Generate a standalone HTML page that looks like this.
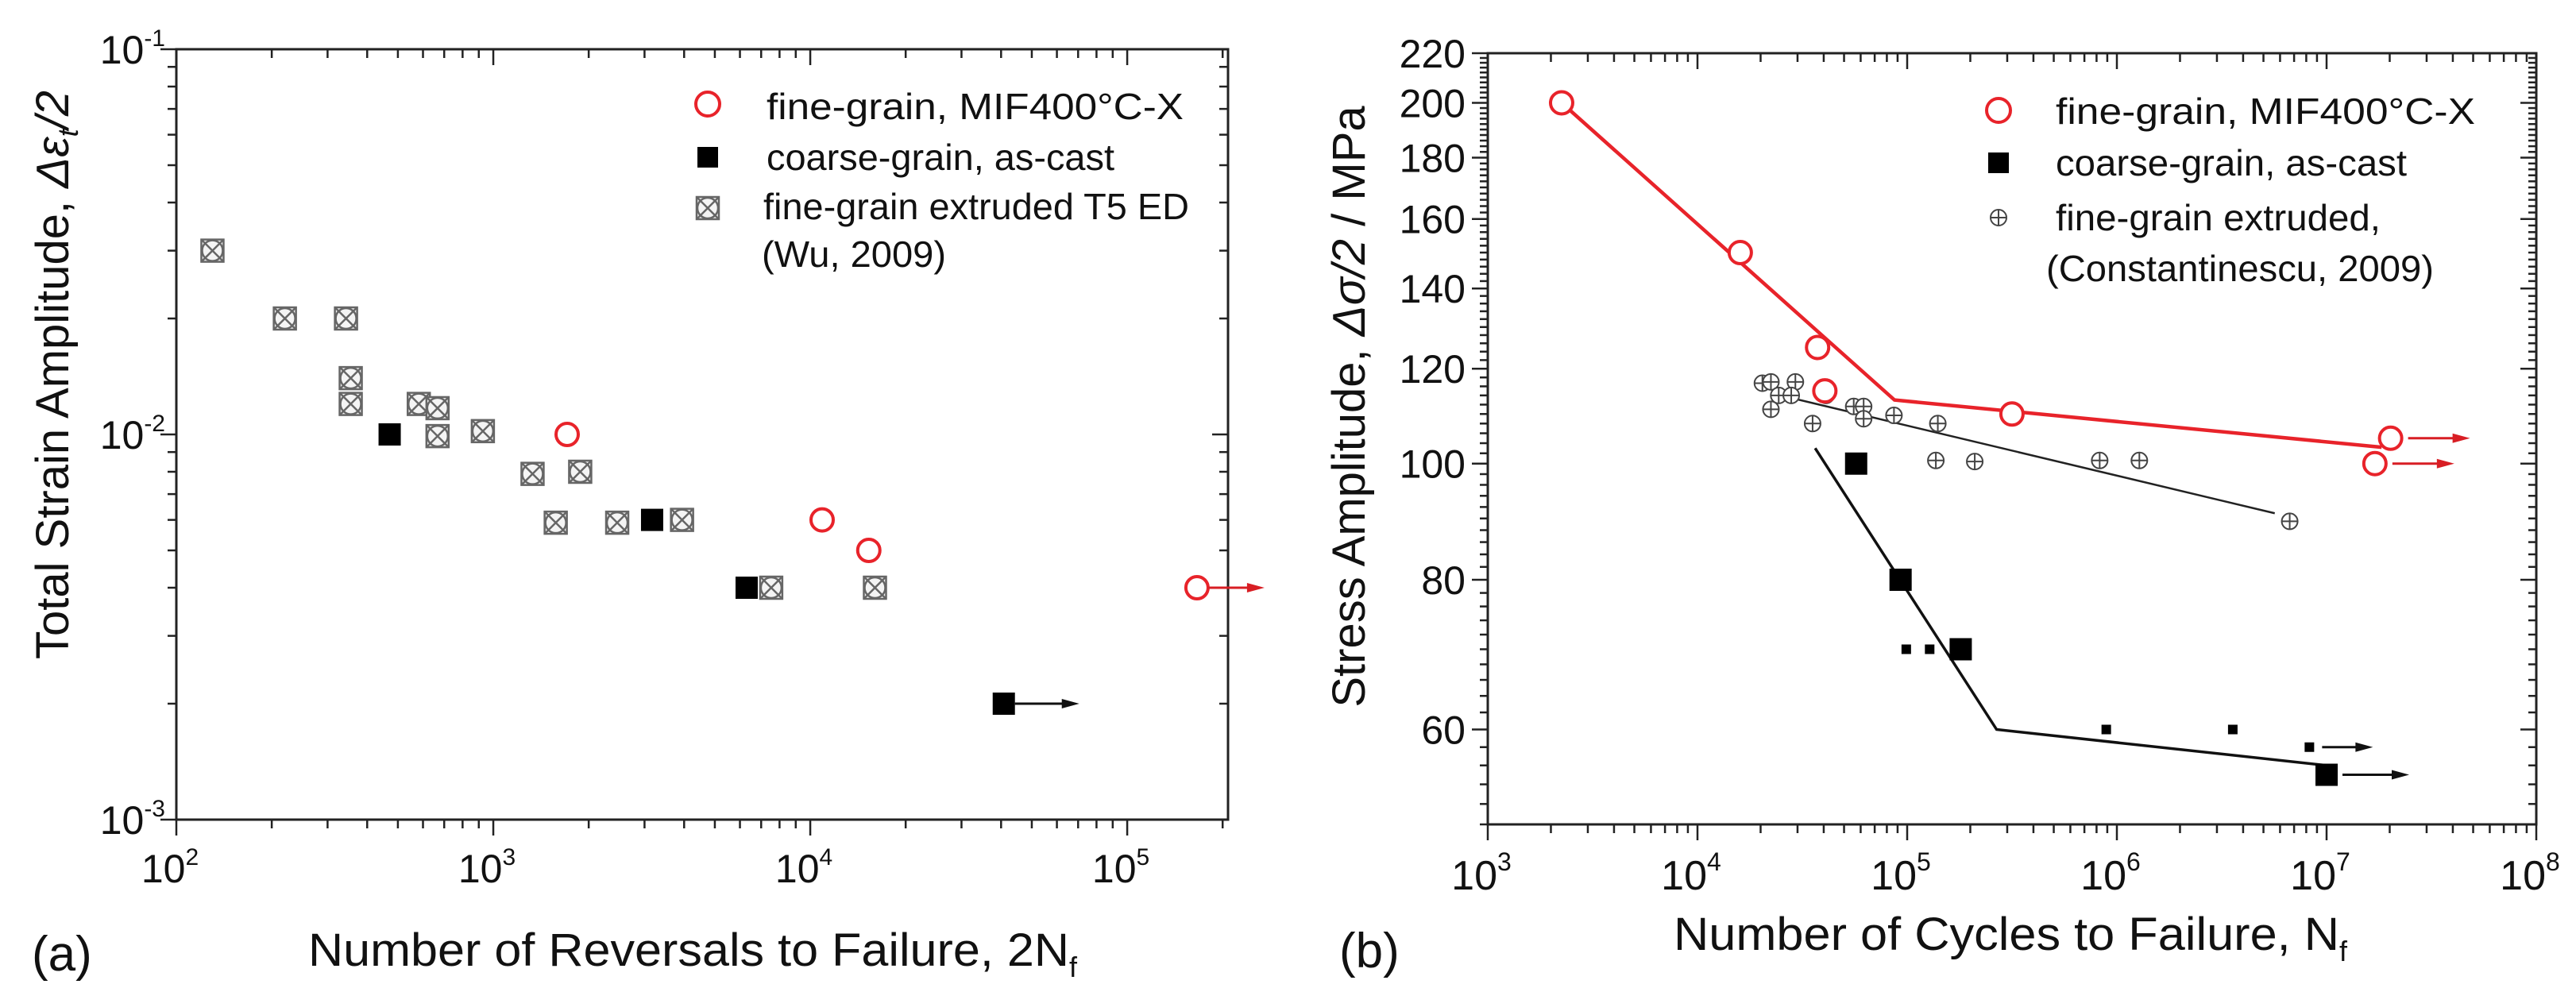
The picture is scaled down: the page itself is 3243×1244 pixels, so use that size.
<!DOCTYPE html>
<html><head><meta charset="utf-8"><style>
html,body{margin:0;padding:0;background:#fff;}
svg{display:block;font-family:"Liberation Sans",Arial,sans-serif;}
</style></head><body>
<svg id="chart" width="3243" height="1244" viewBox="0 0 3243 1244" xmlns="http://www.w3.org/2000/svg">
<g id="pa"></g>
<g id="pb"></g>
</svg>
<script>
// ---------- Panel (a) data ----------
const aFineX = [1710, 10900, 15300, 166000];
const aFineY = [0.01, 0.006, 0.005, 0.004];
const aFineRunout = [false, false, false, true];
const aCoarseX = [471, 3170, 6300, 40800];
const aCoarseY = [0.01, 0.006, 0.004, 0.002];
const aCoarseRunout = [false, false, false, true];
const aWuX = [130, 220, 343, 355, 355, 582, 667, 667, 927, 1330, 1880, 1574, 2460, 3940, 7530, 16000];
const aWuY = [0.030, 0.020, 0.020, 0.014, 0.012, 0.012, 0.0117, 0.0099, 0.0102, 0.0079, 0.008, 0.0059, 0.0059, 0.006, 0.004, 0.004];
const aXTicks = [2, 3, 4, 5];
const aYTicks = [-1, -2, -3];

// ---------- Panel (b) data ----------
const bFineX = [2250, 16000, 37400, 40500, 316000, 20200000, 17000000];
const bFineY = [200, 150, 125, 115, 110, 105, 100];
const bFineRunout = [false, false, false, false, false, true, true];
const bFineLineX = [2250, 87000, 18300000];
const bFineLineY = [200, 113, 103.2];
const bCoarseX = [57100, 93000, 180000, 10000000];
const bCoarseY = [100, 80, 70, 55];
const bCoarseRunout = [false, false, false, true];
const bCoarseSmallX = [99000, 128000, 890000, 3570000, 8280000];
const bCoarseSmallY = [70, 70, 60, 60, 58];
const bCoarseSmallRunout = [false, false, false, false, true];
const bCoarseLineX = [36400, 267000, 10000000];
const bCoarseLineY = [103, 60, 56];
const bConX = [20400, 22400, 29300, 22400, 24400, 28000, 41000, 35400, 55600, 62000, 62000, 86500, 140000, 137000, 210000, 828000, 1280000, 6670000];
const bConY = [116.7, 117, 117, 111, 114, 114, 114, 108, 111.6, 111.6, 109, 109.7, 108, 100.6, 100.4, 100.6, 100.6, 89.5];
const bConLineX = [22900, 5660000];
const bConLineY = [114.4, 90.9];
const bXTicks = [3, 4, 5, 6, 7, 8];
const bYTicks = [60, 80, 100, 120, 140, 160, 180, 200, 220];

const NS = "http://www.w3.org/2000/svg";
function mk(parent, tag, attrs, text) {
  const e = document.createElementNS(NS, tag);
  for (const k in attrs) e.setAttribute(k, attrs[k]);
  if (text !== undefined) e.textContent = text;
  parent.appendChild(e);
  return e;
}

// ---------- scales ----------
const A = {L:222, R:1546, T:62, B:1032, x0:2, x1:Math.log10(2.08e5), y0:-3, y1:-1};
const ax = v => A.L + (Math.log10(v) - A.x0) / (A.x1 - A.x0) * (A.R - A.L);
const ay = v => A.B - (Math.log10(v) - A.y0) / (A.y1 - A.y0) * (A.B - A.T);
const Bs = {L:1873, R:3193, T:67, B:1038, x0:3, x1:8, y0:Math.log10(50), y1:Math.log10(220)};
const bx = v => Bs.L + (Math.log10(v) - Bs.x0) / (Bs.x1 - Bs.x0) * (Bs.R - Bs.L);
const by = v => Bs.B - (Math.log10(v) - Bs.y0) / (Bs.y1 - Bs.y0) * (Bs.B - Bs.T);

// ---------- markers ----------
function circle(g, x, y, r, name) {
  const e = mk(g, "circle", {cx:x, cy:y, r:r, fill:"#fff", stroke:"#e8232a", "stroke-width":4});
  
  
}
function square(g, x, y, s, name) {
  const e = mk(g, "rect", {x:x - s/2, y:y - s/2, width:s, height:s, fill:"#000"});
  
  
}
function wu(g, x, y, name) {
  const s = 28;
  const gg = mk(g, "g", {stroke:"#666", "stroke-width":2.5, fill:"none"});
  
  
  mk(gg, "rect", {x:x - s/2, y:y - s/2, width:s, height:s, fill:"#f4f4f4"});
  mk(gg, "circle", {cx:x, cy:y, r:s/2 - 1});
  mk(gg, "path", {d:`M${x-s/2} ${y-s/2}L${x+s/2} ${y+s/2}M${x+s/2} ${y-s/2}L${x-s/2} ${y+s/2}`});
}
function con(g, x, y, name) {
  const r = 10;
  const gg = mk(g, "g", {stroke:"#444", "stroke-width":2, fill:"#fff"});
  
  
  mk(gg, "circle", {cx:x, cy:y, r:r});
  mk(gg, "path", {d:`M${x-r} ${y}H${x+r}M${x} ${y-r}V${y+r}`});
}
function arrow(g, x1, x2, y, color, name) {
  const gg = mk(g, "g", {});
  
  
  mk(gg, "line", {x1:x1, y1:y, x2:x2 - 14, y2:y, stroke:color, "stroke-width":3});
  mk(gg, "path", {d:`M${x2} ${y}L${x2-22} ${y-6}L${x2-22} ${y+6}Z`, fill:color});
}
function ltext(g, x, y, len, str) {
  return mk(g, "text", {x:x, y:y, textLength:len, lengthAdjust:"spacingAndGlyphs"}, str);
}

// ---------- axes frame ----------
function frame(g, S, sx, sy, xDec, yMinor, name) {
  const f = mk(g, "g", {stroke:"#222", "stroke-width":3, fill:"none"});
  
  
  mk(f, "rect", {x:S.L, y:S.T, width:S.R - S.L, height:S.B - S.T});
  for (let d = xDec[0]; d <= xDec[1]; d++) {
    for (let m = 1; m <= 9; m++) {
      const v = m * Math.pow(10, d);
      const x = sx(v);
      if (x < S.L - 0.5 || x > S.R + 0.5) continue;
      const len = m === 1 ? 20 : 11;
      mk(f, "line", {x1:x, y1:S.B, x2:x, y2:S.B + len, "stroke-width":2.5});
      mk(f, "line", {x1:x, y1:S.T, x2:x, y2:S.T + len, "stroke-width":2.5});
    }
  }
  yMinor.forEach(o => {
    const y = sy(o.v);
    if (y < S.T - 0.5 || y > S.B + 0.5) return;
    mk(f, "line", {x1:S.L, y1:y, x2:S.L - o.len, y2:y, "stroke-width":2.5});
    mk(f, "line", {x1:S.R, y1:y, x2:S.R - o.len, y2:y, "stroke-width":2.5});
  });
}

// ================= Panel A =================
const pa = document.getElementById("pa");
const aTicksY = [];
for (let d = -3; d <= -2; d++) for (let m = 1; m <= 9; m++) aTicksY.push({v:m * Math.pow(10, d), len: m === 1 ? 20 : 11});
aTicksY.push({v:0.1, len:20});
frame(pa, A, ax, ay, [2, 5], aTicksY, "panel-a-axes");

aXTicks.forEach(d => {
  const t = mk(pa, "text", {x:ax(Math.pow(10, d)) - 8, y:1111, "font-size":50, "text-anchor":"middle", fill:"#111"});
  
  
  mk(t, "tspan", {}, "10");
  mk(t, "tspan", {"font-size":30, dy:-22}, String(d));
});
aYTicks.forEach(d => {
  const t = mk(pa, "text", {x:208, y:ay(Math.pow(10, d)) + 18, "font-size":50, "text-anchor":"end", fill:"#111"});
  
  
  mk(t, "tspan", {}, "10");
  mk(t, "tspan", {"font-size":30, dy:-22}, String(d));
});

aWuX.forEach((v, i) => wu(pa, ax(v), ay(aWuY[i]), "wu-point"));
aCoarseX.forEach((v, i) => {
  square(pa, ax(v), ay(aCoarseY[i]), 28, "coarse-grain-point");
  if (aCoarseRunout[i]) arrow(pa, ax(v) + 14, ax(v) + 95, ay(aCoarseY[i]), "#111", "runout-arrow");
});
aFineX.forEach((v, i) => {
  circle(pa, ax(v), ay(aFineY[i]), 14, "fine-grain-point");
  if (aFineRunout[i]) arrow(pa, ax(v) + 14, ax(v) + 85, ay(aFineY[i]), "#d81e24", "runout-arrow");
});

// legend a
const lga = mk(pa, "g", {"font-size":46, fill:"#111"});


circle(lga, 891, 131, 15, "legend-marker-fine");
ltext(lga, 965, 150, 525, "fine-grain, MIF400°C-X");
square(lga, 891, 198, 26, "legend-marker-coarse");
ltext(lga, 965, 214, 438, "coarse-grain, as-cast");
wu(lga, 891, 262, "legend-marker-wu");
ltext(lga, 961, 276, 536, "fine-grain extruded T5 ED");
ltext(lga, 959, 336, 232, "(Wu, 2009)");

// titles a
const xa = mk(pa, "text", {x:388, y:1216, "font-size":58, fill:"#111"});


mk(xa, "tspan", {textLength:958, lengthAdjust:"spacingAndGlyphs"}, "Number of Reversals to Failure,  2N");
mk(xa, "tspan", {"font-size":36, dy:14}, "f");
const ya = mk(pa, "text", {x:0, y:0, "font-size":58, fill:"#111", "text-anchor":"middle", transform:"translate(86,472) rotate(-90)"});


mk(ya, "tspan", {}, "Total Strain Amplitude, ");
mk(ya, "tspan", {"font-style":"italic"}, "Δε");
mk(ya, "tspan", {"font-size":36, dy:12, "font-style":"italic"}, "t");
mk(ya, "tspan", {dy:-12, "font-style":"italic"}, "/2");
const la = mk(pa, "text", {x:40, y:1222, "font-size":62, fill:"#111"}, "(a)");



// ================= Panel B =================
const pb = document.getElementById("pb");
const bTicksY = [];
for (let v = 50; v <= 220; v += 2) bTicksY.push({v:v, len: v % 20 === 0 ? 20 : 10});
frame(pb, Bs, bx, by, [3, 8], bTicksY, "panel-b-axes");

bXTicks.forEach(d => {
  const t = mk(pb, "text", {x:bx(Math.pow(10, d)) - 8, y:1120, "font-size":52, "text-anchor":"middle", fill:"#111"});
  
  
  mk(t, "tspan", {}, "10");
  mk(t, "tspan", {"font-size":32, dy:-24}, String(d));
});
bYTicks.forEach(v => {
  const t = mk(pb, "text", {x:1845, y:by(v) + 18, "font-size":50, "text-anchor":"end", fill:"#111"}, String(v));
  
  
});

function polyline(g, xs, ys, color, w, name) {
  const pts = xs.map((v, i) => bx(v) + "," + by(ys[i])).join(" ");
  const e = mk(g, "polyline", {points:pts, fill:"none", stroke:color, "stroke-width":w});
  
  
}
polyline(pb, bConLineX, bConLineY, "#222", 2.5, "constantinescu-fit-line");
bConX.forEach((v, i) => con(pb, bx(v), by(bConY[i]), "constantinescu-point"));
polyline(pb, bCoarseLineX, bCoarseLineY, "#111", 3.5, "coarse-grain-fit-line");
bCoarseSmallX.forEach((v, i) => {
  square(pb, bx(v), by(bCoarseSmallY[i]), 12, "coarse-grain-small-point");
  if (bCoarseSmallRunout[i]) arrow(pb, bx(v) + 16, bx(v) + 80, by(bCoarseSmallY[i]), "#111", "runout-arrow");
});
bCoarseX.forEach((v, i) => {
  square(pb, bx(v), by(bCoarseY[i]), 28, "coarse-grain-point");
  if (bCoarseRunout[i]) arrow(pb, bx(v) + 20, bx(v) + 104, by(bCoarseY[i]), "#111", "runout-arrow");
});
polyline(pb, bFineLineX, bFineLineY, "#e8232a", 4.5, "fine-grain-fit-line");
bFineX.forEach((v, i) => {
  circle(pb, bx(v), by(bFineY[i]), 14, "fine-grain-point");
  if (bFineRunout[i]) arrow(pb, bx(v) + 22, bx(v) + 100, by(bFineY[i]), "#d81e24", "runout-arrow");
});

// legend b
const lgb = mk(pb, "g", {"font-size":46, fill:"#111"});


circle(lgb, 2516, 139, 15, "legend-marker-fine");
ltext(lgb, 2588, 156, 528, "fine-grain, MIF400°C-X");
square(lgb, 2516, 205, 26, "legend-marker-coarse");
ltext(lgb, 2588, 221, 442, "coarse-grain, as-cast");
con(lgb, 2516, 274, "legend-marker-constantinescu");
ltext(lgb, 2588, 290, 409, "fine-grain extruded,");
ltext(lgb, 2576, 354, 488, "(Constantinescu, 2009)");

// titles b
const xb = mk(pb, "text", {x:2107, y:1196, "font-size":58, fill:"#111"});


mk(xb, "tspan", {textLength:838, lengthAdjust:"spacingAndGlyphs"}, "Number of Cycles to Failure, N");
mk(xb, "tspan", {"font-size":36, dy:14}, "f");
const yb = mk(pb, "text", {x:0, y:0, "font-size":58, fill:"#111", "text-anchor":"middle", transform:"translate(1718,512) rotate(-90)"});


mk(yb, "tspan", {}, "Stress Amplitude, ");
mk(yb, "tspan", {"font-style":"italic"}, "Δσ/2");
mk(yb, "tspan", {}, " / MPa");
const lb = mk(pb, "text", {x:1686, y:1218, "font-size":62, fill:"#111"}, "(b)");


</script>
</body></html>
